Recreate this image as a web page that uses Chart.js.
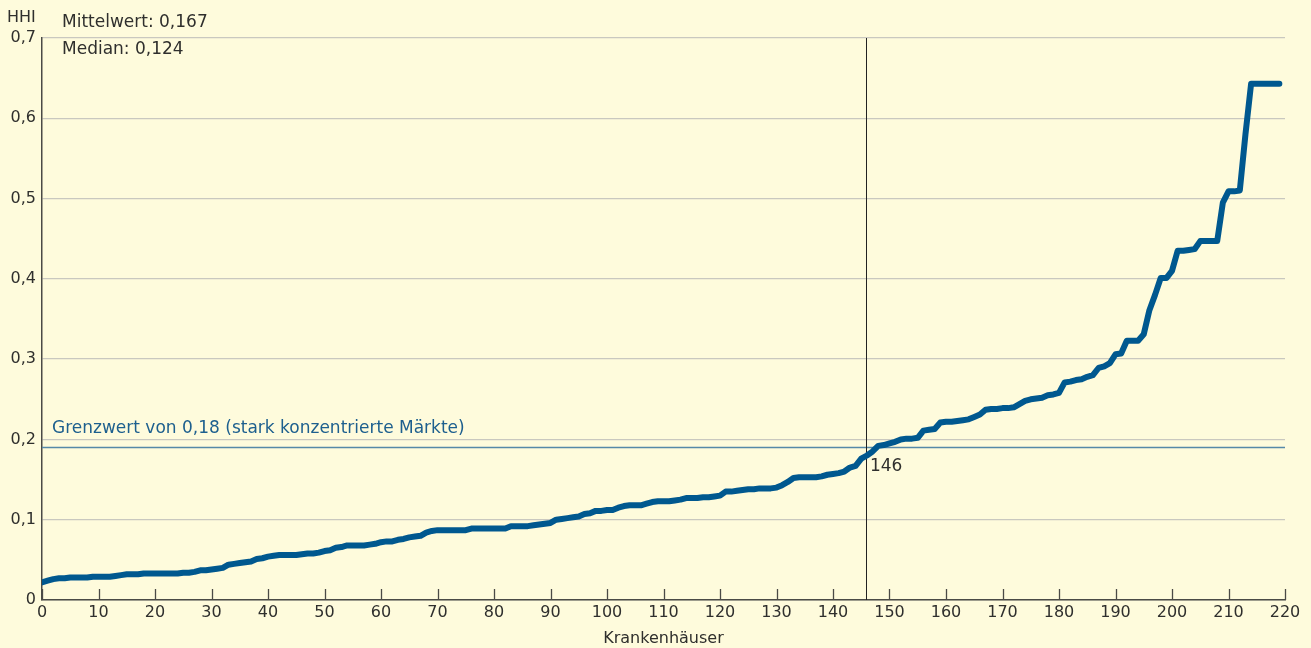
<!DOCTYPE html>
<html lang="de">
<head>
<meta charset="utf-8">
<title>HHI Krankenhäuser</title>
<script src="https://cdn.jsdelivr.net/npm/chart.js@4"></script>
<style>
  html, body { margin: 0; padding: 0; background: #fefbdc; }
  #wrap { width: 1311px; height: 648px; position: relative; }
</style>
</head>
<body>
<div id="wrap"><canvas id="hhiChart" width="1311" height="648"></canvas></div>
<script>
// HHI je Krankenhaus, aufsteigend sortiert
const hhiWerte = [
  0.022, 0.024, 0.026, 0.027, 0.027, 0.028, 0.028, 0.028, 0.028, 0.029,
  0.029, 0.029, 0.029, 0.030, 0.031, 0.032, 0.032, 0.032, 0.033, 0.033,
  0.033, 0.033, 0.033, 0.033, 0.033, 0.034, 0.034, 0.035, 0.037, 0.037,
  0.038, 0.039, 0.040, 0.044, 0.045, 0.046, 0.047, 0.048, 0.051, 0.052,
  0.054, 0.055, 0.056, 0.056, 0.056, 0.056, 0.057, 0.058, 0.058, 0.059,
  0.061, 0.062, 0.065, 0.066, 0.068, 0.068, 0.068, 0.068, 0.069, 0.070,
  0.072, 0.073, 0.073, 0.075, 0.076, 0.078, 0.079, 0.080, 0.084, 0.086,
  0.087, 0.087, 0.087, 0.087, 0.087, 0.087, 0.089, 0.089, 0.089, 0.089,
  0.089, 0.089, 0.089, 0.092, 0.092, 0.092, 0.092, 0.093, 0.094, 0.095,
  0.096, 0.100, 0.101, 0.102, 0.103, 0.104, 0.107, 0.108, 0.111, 0.111,
  0.112, 0.112, 0.115, 0.117, 0.118, 0.118, 0.118, 0.120, 0.122, 0.123,
  0.123, 0.123, 0.124, 0.125, 0.127, 0.127, 0.127, 0.128, 0.128, 0.129,
  0.130, 0.135, 0.135, 0.136, 0.137, 0.138, 0.138, 0.139, 0.139, 0.139,
  0.140, 0.143, 0.147, 0.152, 0.153, 0.153, 0.153, 0.153, 0.154, 0.156,
  0.157, 0.158, 0.160, 0.165, 0.167, 0.176, 0.180, 0.185, 0.192, 0.193,
  0.195, 0.197, 0.200, 0.201, 0.201, 0.202, 0.211, 0.212, 0.213, 0.221,
  0.222, 0.222, 0.223, 0.224, 0.225, 0.228, 0.231, 0.237, 0.238, 0.238,
  0.239, 0.239, 0.240, 0.244, 0.248, 0.250, 0.251, 0.252, 0.255, 0.256,
  0.258, 0.271, 0.272, 0.274, 0.275, 0.278, 0.280, 0.289, 0.291, 0.295,
  0.306, 0.307, 0.323, 0.323, 0.323, 0.331, 0.361, 0.380, 0.401, 0.401,
  0.410, 0.435, 0.435, 0.436, 0.437, 0.447, 0.447, 0.447, 0.447, 0.495,
  0.509, 0.509, 0.510, 0.580, 0.643, 0.643, 0.643, 0.643, 0.643, 0.643
];

const xTicks = [0, 10, 20, 30, 40, 50, 60, 70, 80, 90, 100, 110,
                120, 130, 140, 150, 160, 170, 180, 190, 200, 210, 220];
const yTicks = [0, 0.1, 0.2, 0.3, 0.4, 0.5, 0.6, 0.7];

const grenzwert = 0.19;        // Lage der Grenzlinie im Bild
const grenzwertText = 'Grenzwert von 0,18 (stark konzentrierte Märkte)';
const markierung = 146;        // Krankenhaus, ab dem der Grenzwert überschritten wird
const infoTexte = ['Mittelwert: 0,167', 'Median: 0,124'];

const punkte = hhiWerte.map((v, i) => ({ x: i, y: v }));
const fmt = v => v === 0 ? '0' : v.toFixed(1).replace('.', ',');
const FONT = '"DejaVu Sans", Arial, sans-serif';
const TEXT = '#2f2f2d';

// Grenzlinie, senkrechte Linie, Tickmarken und Texte
const extras = {
  id: 'extras',
  beforeDatasetsDraw(chart) {
    const { ctx, chartArea: a, scales: { x, y } } = chart;
    ctx.save();
    // Tickmarken der x-Achse (nach innen)
    ctx.strokeStyle = '#4a4a46';
    ctx.lineWidth = 1.3;
    xTicks.forEach(t => {
      const px = Math.round(x.getPixelForValue(t)) + 0.5;
      ctx.beginPath();
      ctx.moveTo(px, a.bottom);
      ctx.lineTo(px, a.bottom - 11);
      ctx.stroke();
    });
    // Grenzwert
    const gy = Math.round(y.getPixelForValue(grenzwert)) + 0.5;
    ctx.strokeStyle = '#5689a8';
    ctx.lineWidth = 1.3;
    ctx.beginPath();
    ctx.moveTo(a.left, gy);
    ctx.lineTo(a.right, gy);
    ctx.stroke();
    // senkrechte Linie bei 146
    const mx = Math.round(x.getPixelForValue(markierung)) - 0.5;
    ctx.strokeStyle = '#222';
    ctx.lineWidth = 1;
    ctx.beginPath();
    ctx.moveTo(mx, a.top);
    ctx.lineTo(mx, a.bottom);
    ctx.stroke();
    ctx.restore();
  },
  afterDatasetsDraw(chart) {
    const { ctx, chartArea: a, scales: { x, y } } = chart;
    ctx.save();
    ctx.textBaseline = 'middle';
    ctx.textAlign = 'left';
    ctx.fillStyle = TEXT;
    ctx.font = '16px ' + FONT;
    ctx.fillText('HHI', 7, 18);
    ctx.font = '17px ' + FONT;
    ctx.fillText(infoTexte[0], a.left + 20, 23);
    ctx.fillText(infoTexte[1], a.left + 20, 50);
    ctx.fillText(String(markierung), x.getPixelForValue(markierung) + 3, y.getPixelForValue(grenzwert) + 19);
    ctx.fillStyle = '#1d5f8e';
    ctx.fillText(grenzwertText, a.left + 10, y.getPixelForValue(grenzwert) - 19);
    ctx.restore();
  }
};

new Chart(document.getElementById('hhiChart'), {
  type: 'line',
  data: {
    datasets: [{
      data: punkte,
      borderColor: '#00588f',
      borderWidth: 6,
      borderJoinStyle: 'round',
      borderCapStyle: 'round',
      pointRadius: 0,
      tension: 0,
      fill: false
    }]
  },
  options: {
    responsive: false,
    animation: false,
    layout: { padding: { top: 38, right: 26, left: 0, bottom: 0 } },
    plugins: { legend: { display: false }, tooltip: { enabled: false } },
    scales: {
      x: {
        type: 'linear',
        min: 0,
        max: 220,
        afterBuildTicks: s => { s.ticks = xTicks.map(v => ({ value: v })); },
        afterFit: s => { s.height = 48; },
        grid: { display: false, drawTicks: false },
        border: { display: true, color: '#4a4a46', width: 1.5 },
        ticks: { color: TEXT, font: { family: FONT, size: 16 }, padding: 3, maxRotation: 0, autoSkip: false },
        title: { display: true, text: 'Krankenhäuser', color: TEXT, font: { family: FONT, size: 16 }, padding: { top: 0, bottom: 0 } }
      },
      y: {
        min: 0,
        max: 0.7,
        afterBuildTicks: s => { s.ticks = yTicks.map(v => ({ value: v })); },
        afterFit: s => { s.width = 42; },
        grid: { color: '#c9c8bf', lineWidth: 1.3, drawTicks: false },
        border: { display: true, color: '#4a4a46', width: 1.5 },
        ticks: { color: TEXT, font: { family: FONT, size: 16 }, padding: 6, callback: v => fmt(v) }
      }
    }
  },
  plugins: [extras]
});
</script>
</body>
</html>
